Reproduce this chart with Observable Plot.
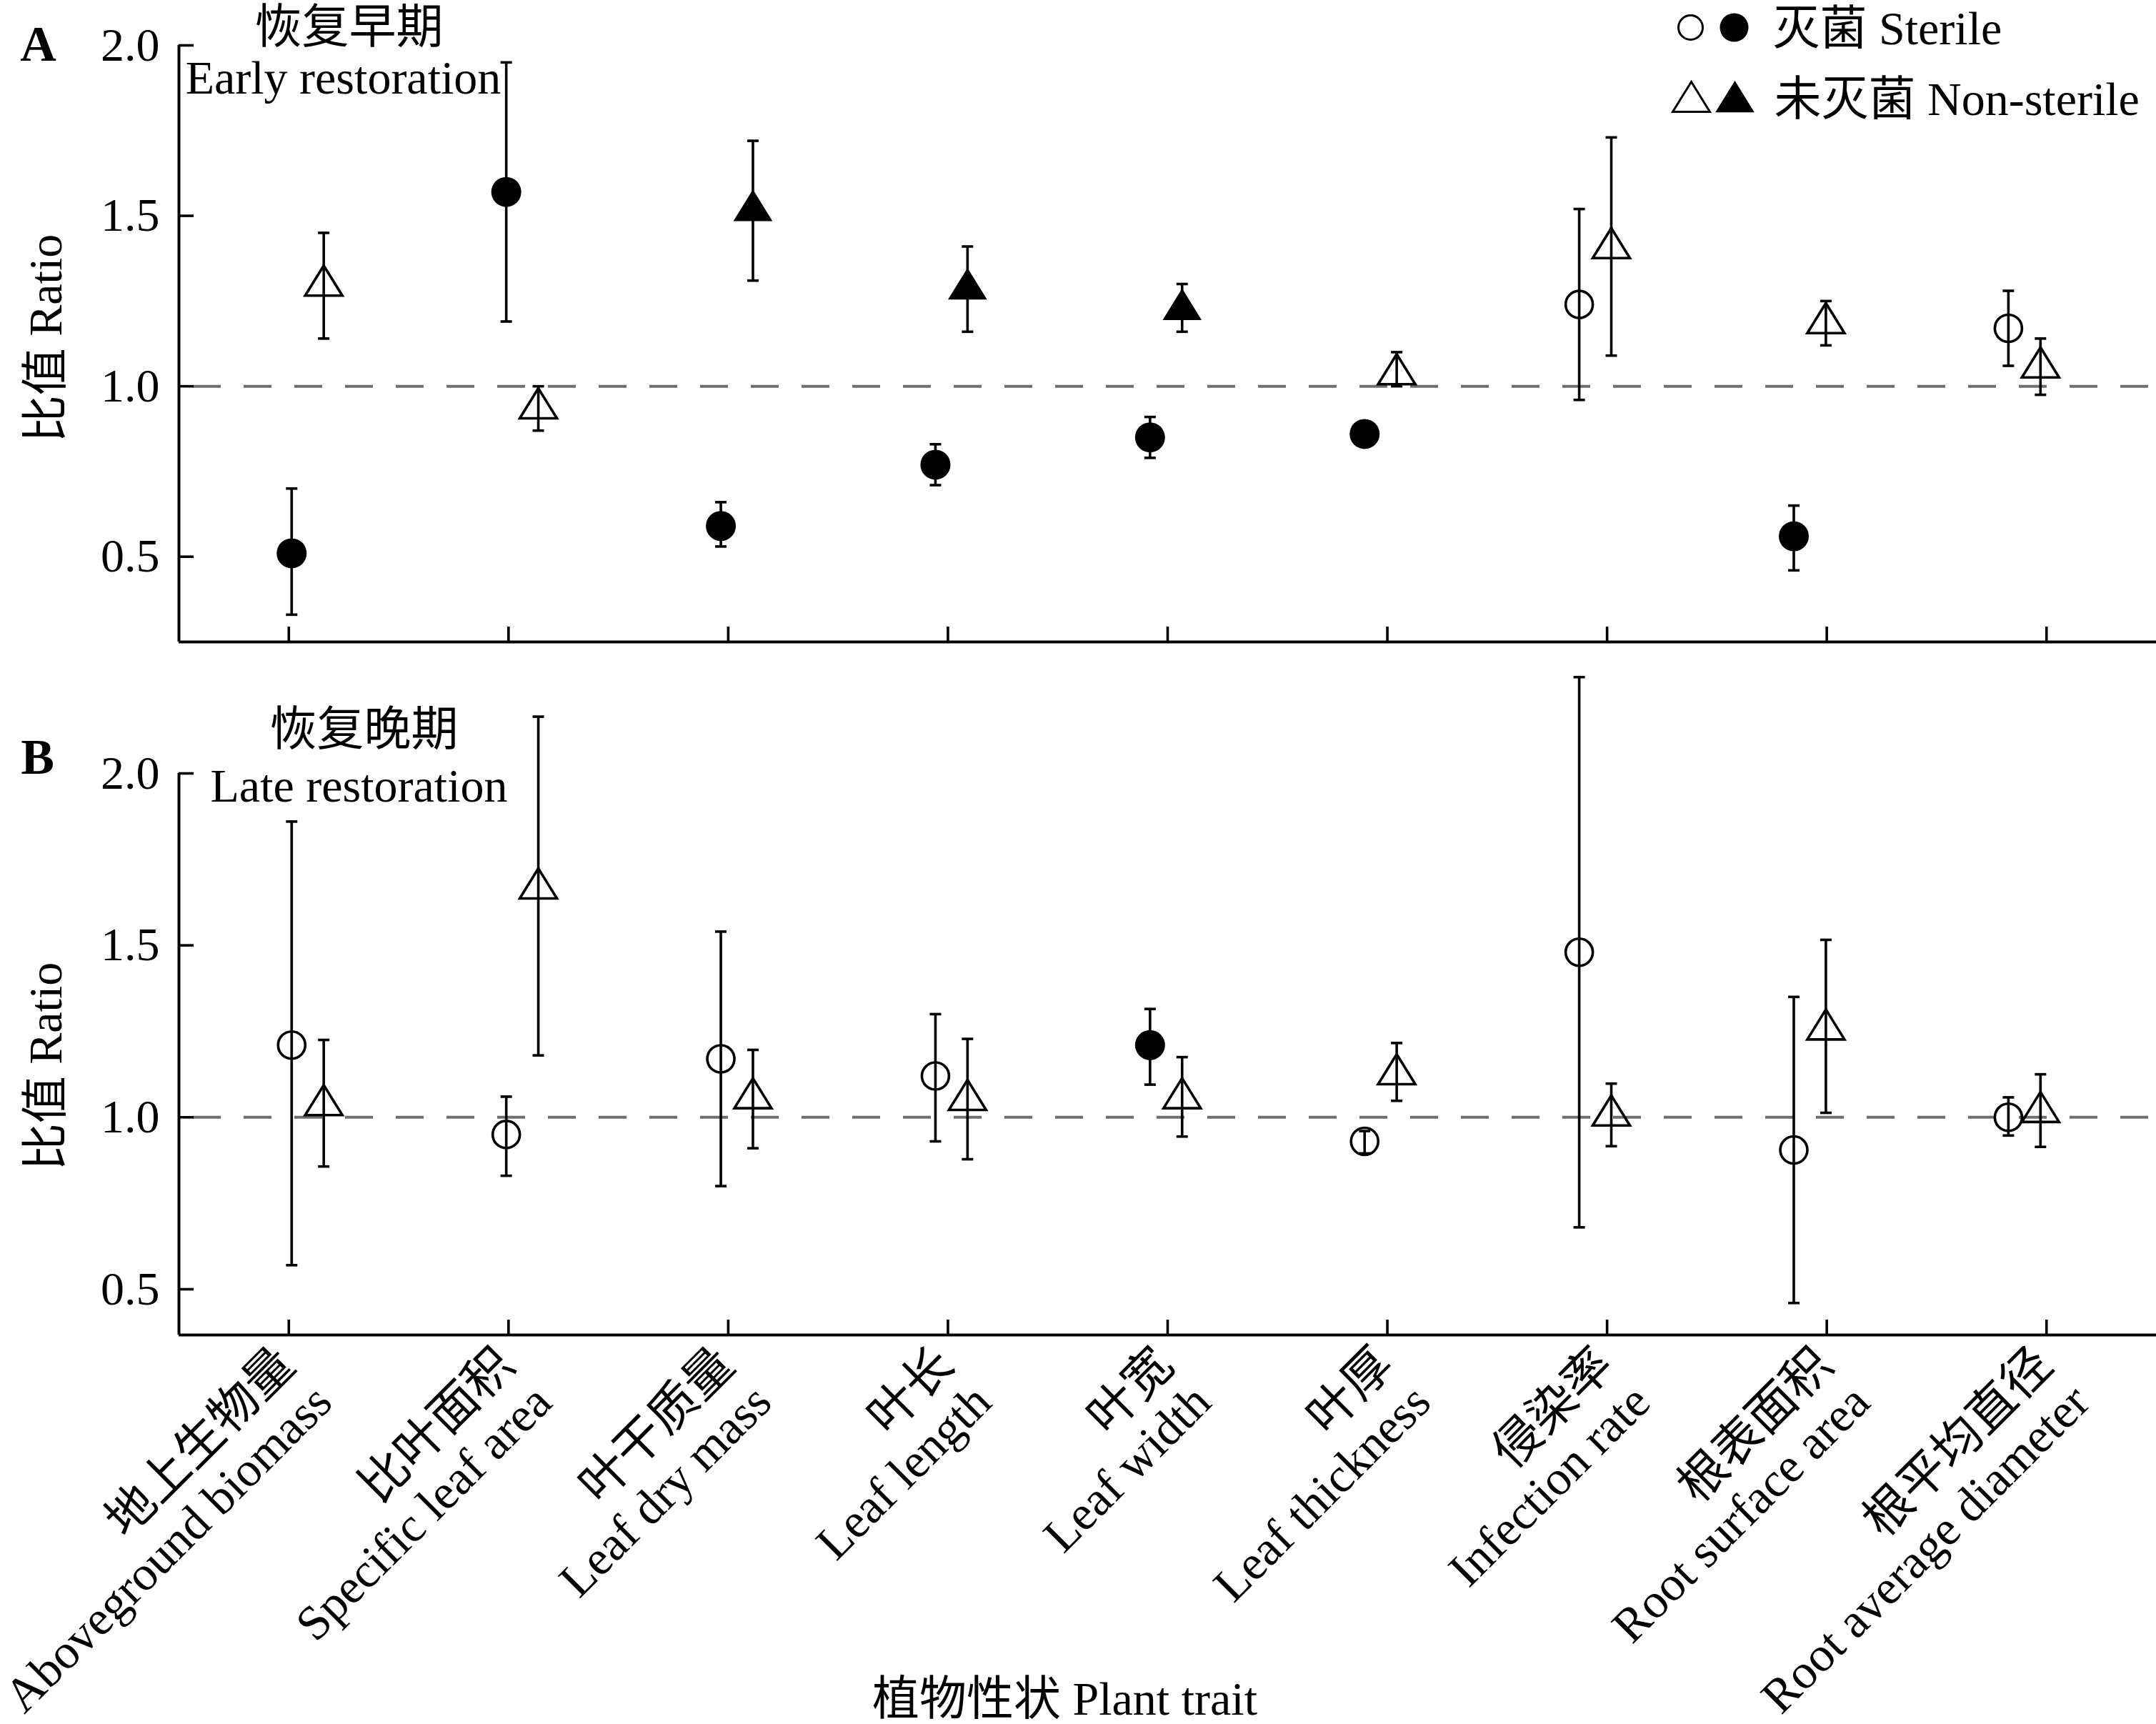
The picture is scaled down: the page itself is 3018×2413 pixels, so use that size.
<!DOCTYPE html>
<html>
<head>
<meta charset="utf-8">
<script src="https://cdn.jsdelivr.net/npm/d3@7"></script>
<script src="https://cdn.jsdelivr.net/npm/@observablehq/plot@0.6"></script>
<style>
html, body { margin: 0; padding: 0; background: #fff; }
#chart { width: 3018px; height: 2413px; position: relative; overflow: hidden; background: #fff; }
#chart svg { display: block; max-width: none; }
</style>
</head>
<body>
<div id="chart"></div>
<script>
// ---------- data ----------
const traitCN = ["地上生物量", "比叶面积", "叶干质量", "叶长", "叶宽", "叶厚", "侵染率", "根表面积", "根平均直径"];
const traitEN = ["Aboveground biomass", "Specific leaf area", "Leaf dry mass", "Leaf length", "Leaf width",
                 "Leaf thickness", "Infection rate", "Root surface area", "Root average diameter"];
const yTicks = [0.5, 1.0, 1.5, 2.0];
const refLine = [1.0];

// A: early restoration
const earlySterile       = [0.51, 1.57, 0.59, 0.77, 0.85, 0.86, 1.24, 0.56, 1.17];
const earlySterileLo     = [0.33, 1.19, 0.53, 0.71, 0.79, 0.85, 0.96, 0.46, 1.06];
const earlySterileHi     = [0.70, 1.95, 0.66, 0.83, 0.91, 0.87, 1.52, 0.65, 1.28];
const earlySterileFilled = [true, true, true, true, true, true, false, true, false];
const earlyNon           = [1.31, 0.95, 1.53, 1.30, 1.24, 1.05, 1.42, 1.20, 1.07];
const earlyNonLo         = [1.14, 0.87, 1.31, 1.16, 1.16, 1.00, 1.09, 1.12, 0.975];
const earlyNonHi         = [1.45, 1.00, 1.72, 1.41, 1.30, 1.10, 1.73, 1.25, 1.14];
const earlyNonFilled     = [false, false, true, true, true, false, false, false, false];

// B: late restoration
const lateSterile        = [1.21, 0.95, 1.17, 1.12, 1.21, 0.93, 1.48, 0.905, 1.00];
const lateSterileLo      = [0.57, 0.83, 0.80, 0.93, 1.095, 0.895, 0.68, 0.46, 0.947];
const lateSterileHi      = [1.86, 1.06, 1.54, 1.30, 1.315, 0.96, 2.28, 1.35, 1.058];
const lateSterileFilled  = [false, false, false, false, true, false, false, false, false];
const lateNon            = [1.05, 1.68, 1.07, 1.065, 1.07, 1.14, 1.02, 1.27, 1.03];
const lateNonLo          = [0.857, 1.18, 0.91, 0.878, 0.944, 1.048, 0.916, 1.013, 0.914];
const lateNonHi          = [1.225, 2.165, 1.196, 1.228, 1.175, 1.216, 1.098, 1.516, 1.125];
const lateNonFilled      = [false, false, false, false, false, false, false, false, false];

// ---------- helpers ----------
const FONT = "'Liberation Serif', 'Times New Roman', 'Noto Sans CJK SC', serif";
const W = 3018, ML = 250;
const xDomain = [-0.5, traitCN.length - 0.5];
const step = 0.9767;                 // point spacing relative to tick spacing
const seriesOffset = {s: 0.013, n: 0.159};
const xOf = d => d.i * step + seriesOffset[d.series];

function makeRows(v, lo, hi, filled, series) {
  return v.map((value, i) => ({i, value, lo: lo[i], hi: hi[i], filled: filled[i], series}));
}

const triangleSym = {draw(ctx) { ctx.moveTo(0, -21); ctx.lineTo(26, 21); ctx.lineTo(-26, 21); ctx.closePath(); }};
const capSym = {draw(ctx) { ctx.moveTo(-8, 0); ctx.lineTo(8, 0); }};

// free-positioned label helper (centered text)
const label = (txt, dx, dy, opts = {}) =>
  Plot.text([txt], {text: d => d, frameAnchor: "top-left", dx, dy, textAnchor: "middle", lineAnchor: "middle", fontSize: 66, ...opts});

function panel({rows, yDomain, height, marginTop, marginBottom, extra}) {
  const plotH = height - marginTop - marginBottom;
  const plotW = W - ML;
  const sterile = rows.filter(d => d.series === "s");
  const non = rows.filter(d => d.series === "n");
  return Plot.plot({
    width: W, height, marginTop, marginBottom, marginLeft: ML, marginRight: 0,
    x: {type: "linear", domain: xDomain, axis: null},
    y: {type: "linear", domain: yDomain, axis: null},
    style: {fontFamily: FONT, fontSize: "66px", color: "black", background: "white", overflow: "visible"},
    marks: [
      Plot.ruleY(refLine, {y: d => d, stroke: "#6e6e6e", strokeWidth: 4, strokeDasharray: "39,32", strokeDashoffset: 51}),
      // error bars
      Plot.ruleX(rows, {x: xOf, y1: "lo", y2: "hi", stroke: "black", strokeWidth: 3.6}),
      Plot.dot(rows, {x: xOf, y: "lo", symbol: capSym, stroke: "black", fill: "none", strokeWidth: 3.6}),
      Plot.dot(rows, {x: xOf, y: "hi", symbol: capSym, stroke: "black", fill: "none", strokeWidth: 3.6}),
      // markers
      Plot.dot(sterile, {filter: d => !d.filled, x: xOf, y: "value", r: 19, symbol: "circle", fill: "none", stroke: "black", strokeWidth: 3.6}),
      Plot.dot(sterile, {filter: d => d.filled, x: xOf, y: "value", r: 21, symbol: "circle", fill: "black", stroke: "none"}),
      Plot.dot(non, {filter: d => !d.filled, x: xOf, y: "value", symbol: triangleSym, fill: "none", stroke: "black", strokeWidth: 3.6}),
      Plot.dot(non, {filter: d => d.filled, x: xOf, y: "value", symbol: triangleSym, fill: "black", stroke: "black", strokeWidth: 1.5}),
      // axes
      Plot.ruleX([xDomain[0]], {x: d => d, stroke: "black", strokeWidth: 4}),
      Plot.ruleY([yDomain[0]], {y: d => d, stroke: "black", strokeWidth: 4}),
      Plot.ruleY(yTicks, {y: d => d, insetRight: plotW - 21, stroke: "black", strokeWidth: 3.6}),
      Plot.ruleX(d3.range(traitCN.length), {x: d => d, insetTop: plotH - 21, stroke: "black", strokeWidth: 3.6}),
      Plot.text(yTicks, {y: d => d, text: d => d.toFixed(1), frameAnchor: "left", textAnchor: "end", lineAnchor: "middle", dx: -27, fontSize: 66}),
      label("比值 Ratio", -186, 410, {rotate: -90}),
      ...extra
    ]
  });
}

const rowsA = [
  ...makeRows(earlySterile, earlySterileLo, earlySterileHi, earlySterileFilled, "s"),
  ...makeRows(earlyNon, earlyNonLo, earlyNonHi, earlyNonFilled, "n")
];
const rowsB = [
  ...makeRows(lateSterile, lateSterileLo, lateSterileHi, lateSterileFilled, "s"),
  ...makeRows(lateNon, lateNonLo, lateNonHi, lateNonFilled, "n")
];

const legendLabels = ["灭菌 Sterile", "未灭菌 Non-sterile"];

const plotA = panel({
  rows: rowsA, yDomain: [0.25, 2.0], height: 960, marginTop: 63, marginBottom: 62,
  extra: [
    label("A", -197, -1, {fontSize: 70, fontWeight: "bold"}),
    label("恢复早期", 238, -25),
    label("Early restoration", 230, 46),
    // legend
    Plot.dot([0], {frameAnchor: "top-left", dx: 2116, dy: -25, r: 17, symbol: "circle", fill: "none", stroke: "black", strokeWidth: 3}),
    Plot.dot([0], {frameAnchor: "top-left", dx: 2177, dy: -25, r: 20, symbol: "circle", fill: "black"}),
    Plot.dot([0], {frameAnchor: "top-left", dx: 2117, dy: 72, symbol: triangleSym, fill: "none", stroke: "black", strokeWidth: 3}),
    Plot.dot([0], {frameAnchor: "top-left", dx: 2178, dy: 72, symbol: triangleSym, fill: "black", stroke: "black", strokeWidth: 1.5}),
    label(legendLabels[0], 2231, -23, {textAnchor: "start"}),
    label(legendLabels[1], 2233, 76, {textAnchor: "start"})
  ]
});

const tickLabelRows = traitCN.map((cn, i) => ({i, label: cn + "\n" + traitEN[i]}));

const plotB = panel({
  rows: rowsB, yDomain: [0.367, 2.0], height: 1453, marginTop: 122, marginBottom: 545,
  extra: [
    label("B", -198, -22, {fontSize: 70, fontWeight: "bold"}),
    label("恢复晚期", 259, -61),
    label("Late restoration", 252, 18),
    Plot.text(tickLabelRows, {x: "i", text: "label", frameAnchor: "bottom", rotate: -45, textAnchor: "end",
      lineAnchor: "top", lineHeight: 1.08, dx: -25, dy: 9, fontSize: 68}),
    Plot.text(["植物性状 Plant trait"], {text: d => d, frameAnchor: "bottom-left", dx: 1240, dy: 510,
      textAnchor: "middle", lineAnchor: "middle", fontSize: 66})
  ]
});

const chart = document.getElementById("chart");
chart.appendChild(plotA);
chart.appendChild(plotB);
</script>
</body>
</html>
